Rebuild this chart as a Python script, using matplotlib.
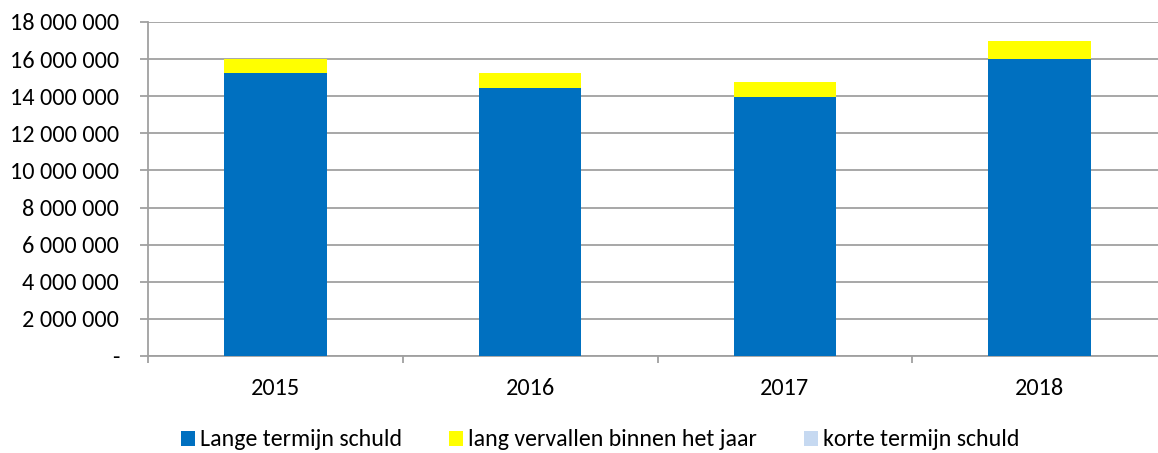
import numpy as np
import matplotlib
matplotlib.use('Agg')
import matplotlib.pyplot as plt
from matplotlib import font_manager
from matplotlib.ticker import FuncFormatter, FixedLocator

# data
years = ['2015', '2016', '2017', '2018']
lange_termijn = [15250000, 14460000, 13980000, 16030000]
lang_vervallen = [760000, 780000, 790000, 970000]
korte_termijn = [0, 0, 0, 0]
labels = ['Lange termijn schuld', 'lang vervallen binnen het jaar', 'korte termijn schuld']
colors = ['#0070C0', '#FFFF00', '#C6D9F1']

names = {f.name for f in font_manager.fontManager.ttflist}
font = 'Carlito' if 'Carlito' in names else 'Lato'
plt.rcParams['font.family'] = [font, 'DejaVu Sans']

fig = plt.figure(figsize=(11.58, 4.53), dpi=100)
ax = fig.add_axes([148 / 1158, 1 - 356 / 453, 1 - 148 / 1158, (356 - 22) / 453])

x = np.arange(len(years))
w = 0.402
bottom = np.zeros(len(years))
for vals, lab, col in zip([lange_termijn, lang_vervallen, korte_termijn], labels, colors):
    ax.bar(x, vals, w, bottom=bottom, color=col, label=lab, zorder=3)
    bottom += np.array(vals)

ax.set_ylim(0, 18000000)
ax.set_xlim(-0.5, 3.5 - 9 / 254.7)
ax.set_yticks(np.arange(0, 18000001, 2000000))


def fmt(v, pos):
    if v == 0:
        return '-'
    return f'{int(v):,}'.replace(',', ' ')


ax.yaxis.set_major_formatter(FuncFormatter(fmt))
ax.yaxis.grid(True, color='#A0A0A0', linewidth=1.3, zorder=0)
ax.set_axisbelow(True)

# category labels in the middle, tick marks on the boundaries
ax.set_xticks(x)
ax.set_xticklabels(years)
ax.xaxis.set_minor_locator(FixedLocator(np.arange(-0.5, 4, 1)))
ax.tick_params(axis='x', which='major', length=0, pad=15.5, labelsize=17.5)
ax.tick_params(axis='x', which='minor', length=5, color='#A0A0A0', width=1.3)
ax.tick_params(axis='y', length=5.8, color='#A0A0A0', width=1.3, pad=15, labelsize=17.5)

for s in ['top', 'right']:
    ax.spines[s].set_visible(False)
ax.spines['left'].set_color('#A0A0A0')
ax.spines['left'].set_linewidth(1.3)
ax.spines['bottom'].set_color('#A0A0A0')
ax.spines['bottom'].set_linewidth(1.3)

leg = fig.legend(loc='center', bbox_to_anchor=(600 / 1158, 1 - 440 / 453), ncol=3, frameon=False,
                 fontsize=17.2, handlelength=0.59, handleheight=0.59, handletextpad=0.21,
                 columnspacing=1.97, borderaxespad=0, borderpad=0)

fig.savefig('out.png', dpi=100)
